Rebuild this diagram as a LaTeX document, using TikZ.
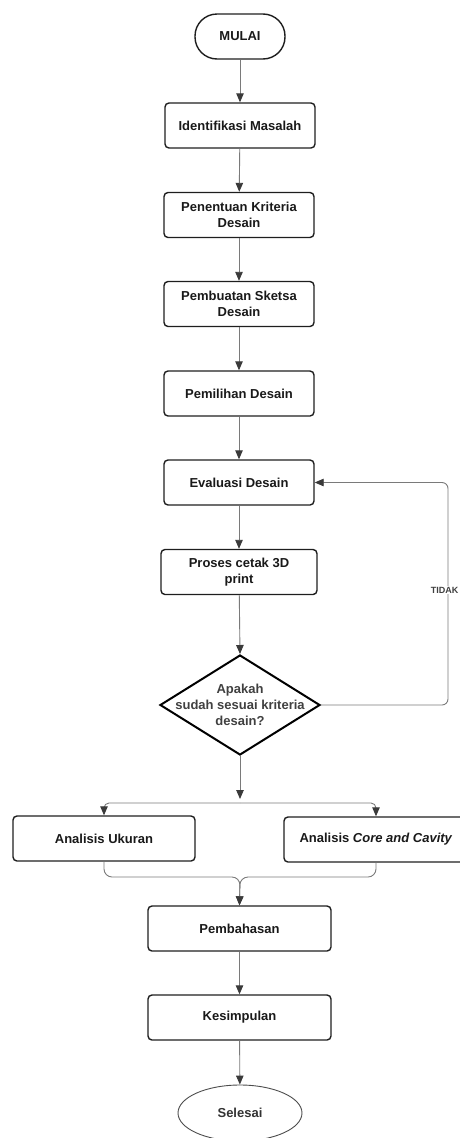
\documentclass[tikz,border=0pt]{standalone}
\usepackage{fontspec}
\setmainfont{Liberation Sans}
\usetikzlibrary{shapes.geometric,arrows.meta}
\definecolor{garis}{HTML}{7A7A7A}
\definecolor{panah}{HTML}{3A3A3A}
\definecolor{tepi}{HTML}{1E1E1E}
\tikzset{
  kotak/.style={draw=tepi,line width=1.4pt,rounded corners=4pt,minimum height=45pt,
    align=center,font=\fontsize{13}{16.5}\selectfont\bfseries,text=black!90},
  keputusan/.style={draw=black,line width=2pt,diamond,minimum width=160pt,
    minimum height=100pt,inner sep=0pt},
  panahku/.style={draw=garis,line width=0.9pt,-{Triangle[length=9pt,width=7.5pt,color=panah]}},
}
\begin{document}
\begin{tikzpicture}[x=1pt,y=-1pt]
\useasboundingbox (0,0) rectangle (459,1138);
% alur utama
\node[kotak,minimum width=90pt,rounded corners=22pt] (mulai) at (240,36.5) {MULAI};
\node[kotak,minimum width=150pt] (identifikasi) at (240,125.5) {Identifikasi Masalah};
\node[kotak,minimum width=150pt] (kriteria) at (239,215) {Penentuan Kriteria\\Desain};
\node[kotak,minimum width=150pt] (sketsa) at (239,304) {Pembuatan Sketsa\\Desain};
\node[kotak,minimum width=150pt] (pemilihan) at (239,393.5) {Pemilihan Desain};
\node[kotak,minimum width=150pt] (evaluasi) at (239,482.5) {Evaluasi Desain};
\node[kotak,minimum width=156pt] (cetak) at (239,572) {Proses cetak 3D\\print};
\node[keputusan,label={[align=center,font=\fontsize{13}{16}\selectfont\bfseries,text=black!75]center:Apakah\\sudah sesuai kriteria\\desain?}] (cek) at (240,705) {};
\node[kotak,minimum width=182pt] (ukuran) at (104,838.5) {Analisis Ukuran};
\node[kotak,minimum width=184pt] (cavity) at (376,839.5) {Analisis \textit{Core and Cavity}};
\node[kotak,minimum width=183pt] (pembahasan) at (239.5,928.5) {Pembahasan};
\node[kotak,minimum width=183pt] (kesimpulan) at (239.5,1017.5) {Kesimpulan};
\node[draw=black!70,line width=0.9pt,ellipse,minimum width=124pt,minimum height=56pt,
  font=\fontsize{13}{16}\selectfont\bfseries,text=black!80] (selesai) at (240,1113) {Selesai};
% titik bantu
\coordinate (sudut) at (448,482.5);
\coordinate (ujung) at (240,799);
\coordinate (cabang) at (240,803);
\coordinate (gabung) at (240,877);
% panah
\draw[panahku] (mulai) -- (identifikasi);
\draw[panahku] (identifikasi) -- (kriteria);
\draw[panahku] (kriteria) -- (sketsa);
\draw[panahku] (sketsa) -- (pemilihan);
\draw[panahku] (pemilihan) -- (evaluasi);
\draw[panahku] (evaluasi) -- (cetak);
\draw[panahku] (cetak) -- (cek.north);
\draw[panahku,rounded corners=6pt] (cek.east) -| (sudut) -- (evaluasi.east);
\node[fill=white,inner sep=1pt,font=\fontsize{9}{11}\selectfont\bfseries,text=black!75] (tidak) at (444.5,590) {TIDAK};
\draw[panahku] (cek.south) -- (ujung);
\draw[panahku,rounded corners=5pt] (cabang) -| (ukuran.north);
\draw[panahku,rounded corners=5pt] (cabang) -| (cavity.north);
\draw[panahku,rounded corners=8pt] (ukuran.south) |- (gabung) -- (pembahasan.north);
\draw[panahku,rounded corners=8pt] (cavity.south) |- (gabung) -- (pembahasan.north);
\draw[panahku] (pembahasan) -- (kesimpulan);
\draw[panahku] (kesimpulan) -- (selesai);
\end{tikzpicture}
\end{document}
